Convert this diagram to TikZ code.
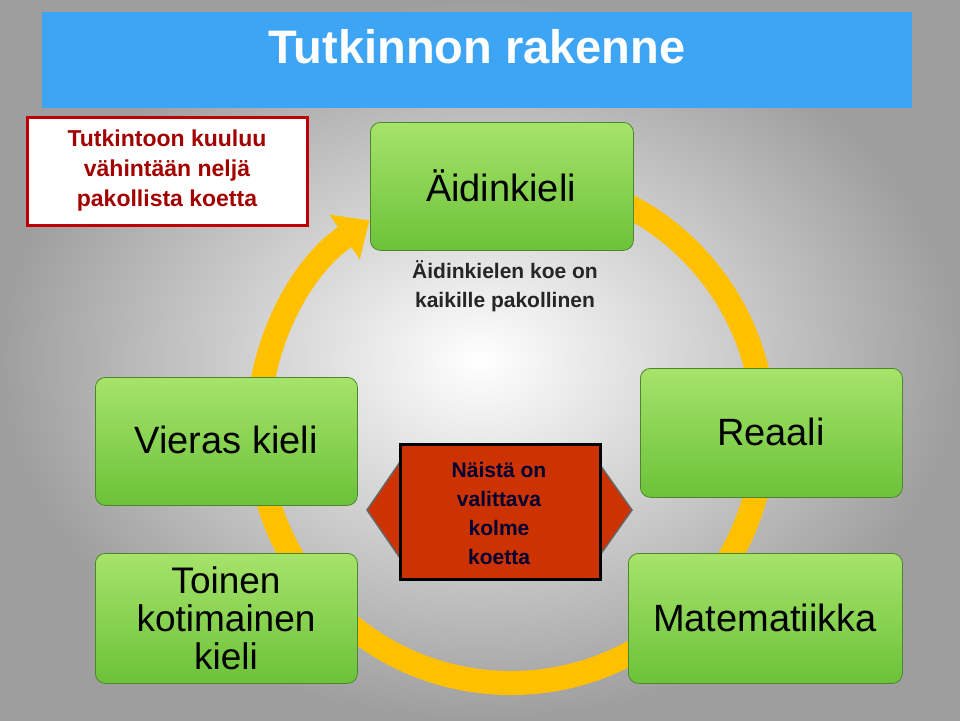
\documentclass[tikz,border=0pt]{standalone}
\usepackage{fontspec}
\setmainfont{Liberation Sans}
\usetikzlibrary{arrows.meta}
\definecolor{titleblue}{HTML}{3DA5F4}
\definecolor{ringorange}{HTML}{FFC000}
\definecolor{greenlight}{HTML}{A6E36A}
\definecolor{greendark}{HTML}{6CC23A}
\definecolor{boxred}{HTML}{C00000}
\definecolor{arrowred}{HTML}{CC3300}
\tikzset{
  subject/.style={rectangle, rounded corners=10pt, draw=greendark!70!black, line width=0.8pt, top color=greenlight, bottom color=greendark, align=center, font=\fontsize{39}{40}\selectfont, inner sep=0pt},
  note/.style={align=center, font=\bfseries\fontsize{21}{29}\selectfont, text=black!85}
}
\begin{document}
\begin{tikzpicture}[x=1pt,y=-1pt]
            % background
            \shade[inner color=white, outer color=black!38] (0,0) rectangle (960,720);
            \useasboundingbox (0,0) rectangle (960,720);
            \node (title) [fill=titleblue, minimum width=870pt, minimum height=96pt, anchor=north west] at (42,12) {};
            \node at (477,47) [text=white, font=\bfseries\fontsize{47}{48}\selectfont] {Tutkinnon rakenne};
            \node (rule) [draw=boxred, line width=2.5pt, fill=white, minimum width=280pt, minimum height=108pt, anchor=north west, inner sep=0pt] at (26,116) {};
            \node at (167,171) [align=center, text=boxred!85!black, font=\bfseries\fontsize{23}{30}\selectfont] {Tutkintoon kuuluu\\vähintään neljä\\pakollista koetta};
            % ring
            \coordinate (centre) at (511,430);
            \draw [ringorange, line width=24pt, -{Triangle[length=30pt,width=52pt]}] ([shift={(-90:253)}]centre) arc[start angle=-90, end angle=236, radius=253];
            \node (mother) [subject, minimum width=263pt, minimum height=128pt, anchor=north west] at (370,122) {};
            \node at (501,186) [font=\fontsize{38}{40}\selectfont] {Äidinkieli};
            \node (motherNote) [note] at (505,286) {Äidinkielen koe on\\kaikille pakollinen};
            \node (foreign) [subject, minimum width=262pt, minimum height=128pt, anchor=north west] at (95,377) {};
            \node at (226,440) [font=\fontsize{38}{40}\selectfont] {Vieras kieli};
            \node (domestic) [subject, minimum width=262pt, minimum height=130pt, anchor=north west] at (95,553) {};
            \node at (226,618) [align=center, font=\fontsize{37}{38}\selectfont] {Toinen\\kotimainen\\kieli};
            \node (real) [subject, minimum width=262pt, minimum height=129pt, anchor=north west] at (640,368) {};
            \node at (771,432) [font=\fontsize{38}{40}\selectfont] {Reaali};
            \node (math) [subject, minimum width=274pt, minimum height=130pt, anchor=north west] at (628,553) {};
            \node at (765,618) [font=\fontsize{38}{40}\selectfont] {Matematiikka};
            % choice arrow
            \fill [arrowred, draw=black!60, line width=1.5pt] (400,462) -- (367,510) -- (400,558) -- cycle;
            \fill [arrowred, draw=black!60, line width=1.5pt] (598,462) -- (632,510) -- (598,558) -- cycle;
            \node (choice) [fill=arrowred, draw=black, line width=3pt, minimum width=200pt, minimum height=135pt, anchor=north west] at (399,443) {};
            \node at (499,513) [align=center, text=black!80!blue, font=\bfseries\fontsize{21}{29}\selectfont] {Näistä on\\valittava\\kolme\\koetta};
\end{tikzpicture}
\end{document}
